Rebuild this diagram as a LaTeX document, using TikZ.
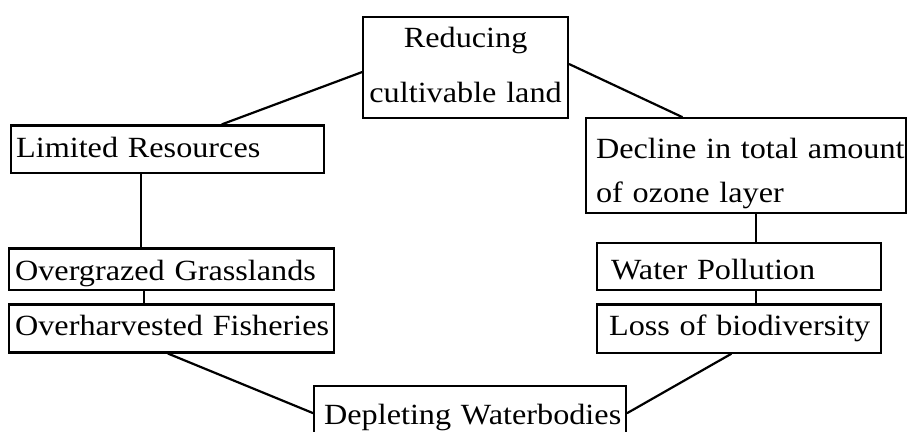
\documentclass[tikz,border=0pt]{standalone}
\usepackage{fontspec}
\setmainfont{Liberation Serif}[FakeStretch=1.1]

\begin{document}
\begin{tikzpicture}[
  x=1pt, y=-1pt,
  font=\fontsize{29.3}{35}\selectfont,
  box/.style={draw, line width=2.2pt, anchor=north west, inner ysep=0pt, align=left},
  link/.style={line width=2.2pt, line cap=round}
]
\useasboundingbox (0,0) rectangle (907,431);
\clip (0,0) rectangle (907,431);

\node[box, align=center, text width=205pt, inner xsep=0pt, text height=30.7pt, text depth=70.3pt, font=\fontsize{29.3}{55}\selectfont] (reduce) at (362,16) {Reducing\\cultivable land};

\node[box, text width=303pt, inner xsep=5pt, text height=32.4pt, text depth=15pt] (limited) at (10,124.3) {\mbox{Limited Resources}};
\node[box, text width=300pt, inner xsep=10pt, text height=40.7pt, text depth=53.8pt, font=\fontsize{29.3}{44}\selectfont] (decline) at (585,117) {\mbox{Decline in total amount}\\of ozone layer};

\node[box, text width=313pt, inner xsep=6pt, text height=31.7pt, text depth=10pt] (grazed) at (8,247.3) {\mbox{Overgrazed Grasslands}};
\node[box, text width=313pt, inner xsep=6pt, text height=30.7pt, text depth=17.4pt] (fished) at (8,303.3) {\mbox{Overharvested Fisheries}};

\node[box, text width=256pt, inner xsep=14pt, text height=36.6pt, text depth=10.7pt] (water) at (596,241.7) {\mbox{Water Pollution}};
\node[box, text width=260pt, inner xsep=12pt, text height=31pt, text depth=17.4pt] (loss) at (596,303.3) {\mbox{Loss of biodiversity}};

\node[box, text width=292pt, inner xsep=10pt, text height=38.3pt, text depth=15.7pt] (deplete) at (313,385) {\mbox{Depleting Waterbodies}};

% upper links
\draw[link] ([xshift=212pt]limited.north west) -- ([yshift=-4.5pt]reduce.west);
\draw[link] ([yshift=3.5pt]reduce.east) -- ([xshift=-64pt]decline.north);

% left column
\draw[link] ([xshift=-26.5pt]limited.south) -- ([xshift=-30.5pt]grazed.north);
\draw[link] ([xshift=-27.5pt]grazed.south) -- ([xshift=-27.5pt]fished.north);

% right column
\draw[link] ([xshift=10pt]decline.south) -- ([xshift=17pt]water.north);
\draw[link] ([xshift=17pt]water.south) -- ([xshift=17pt]loss.north);

% lower links
\draw[link] ([xshift=-3.5pt]fished.south) -- (deplete.west);
\draw[link] ([xshift=-8pt]loss.south) -- (deplete.east);
\end{tikzpicture}
\end{document}
